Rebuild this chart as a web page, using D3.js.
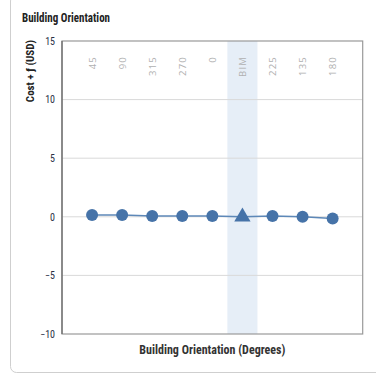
<!DOCTYPE html>
<html>
<head>
<meta charset="utf-8">
<script src="https://cdn.jsdelivr.net/npm/d3@7"></script>
<style>
html,body{margin:0;padding:0;background:#fff;}
svg{display:block;}
.narrow{font-family:"Liberation Sans Narrow","Roboto Condensed","DejaVu Sans Condensed","Arial Narrow",sans-serif;font-stretch:condensed;}
</style>
</head>
<body>
<svg id="chart" width="376" height="374"></svg>
<script>
const categories = ["45","90","315","270","0","BIM","225","135","180"];
const values = [0.15, 0.15, 0.06, 0.06, 0.06, 0.0, 0.06, 0.0, -0.14];
const highlight = "BIM";
const yTicks = [-10, -5, 0, 5, 10, 15];
const title = "Building Orientation";
const yTitle = "Cost + ƒ (USD)";
const xTitle = "Building Orientation (Degrees)";

const svg = d3.select("#chart");
const L = 62, R = 362.7, T = 41, B = 334;

// card
svg.append("rect").attr("x",10.5).attr("y",-5).attr("width",400).attr("height",377.5)
  .attr("rx",6).attr("fill","#fff").attr("stroke","#cfcfcf").attr("stroke-width",1);

svg.append("text").attr("class","narrow").attr("x",22).attr("y",22)
  .attr("font-size",12.5).attr("font-weight","bold").attr("fill","#222")
  .attr("textLength", 88).attr("lengthAdjust", "spacingAndGlyphs").text(title);

const x = d3.scalePoint().domain(categories).range([L, R]).padding(1);
const y = d3.scaleLinear().domain([-10, 15]).range([B, T]);
const step = x.step();

// highlight band
svg.append("rect").attr("x", x(highlight) - step/2).attr("y", T)
  .attr("width", step).attr("height", B - T).attr("fill", "#e6eef7");

// gridlines
svg.append("g").selectAll("line").data(yTicks.filter(d => d > -10 && d < 15)).join("line")
  .attr("x1", L).attr("x2", R).attr("y1", d => y(d)).attr("y2", d => y(d))
  .attr("stroke", "#d9d9d9").attr("stroke-width", 1);

// frame
svg.append("rect").attr("x", L).attr("y", T).attr("width", R - L).attr("height", B - T)
  .attr("fill", "none").attr("stroke", "#999").attr("stroke-width", 1.2);
svg.append("line").attr("x1", L).attr("x2", L).attr("y1", T).attr("y2", B)
  .attr("stroke", "#666").attr("stroke-width", 1.2);

// y axis labels
const yAxis = d3.axisLeft(y).tickValues(yTicks).tickSize(0).tickPadding(7);
const gy = svg.append("g").attr("transform", `translate(${L},0)`).call(yAxis);
gy.select(".domain").remove();
gy.selectAll("text").attr("class","narrow").attr("font-size", 10).attr("fill", "#2a2f45");

// category labels at top
svg.append("g").selectAll("text").data(categories).join("text")
  .attr("transform", d => `translate(${x(d) + 3.5},56) rotate(-90)`)
  .attr("text-anchor", "end").attr("font-family", "'Open Sans', sans-serif")
  .attr("font-size", 9.5).attr("letter-spacing", 1.2).attr("fill", "#b0b0b0").text(d => d);

// line
const line = d3.line().x((d, i) => x(categories[i])).y(d => y(d));
svg.append("path").datum(values).attr("d", line).attr("fill", "none")
  .attr("stroke", "#5d88b8").attr("stroke-width", 1.5);

// markers
svg.append("g").selectAll("path").data(values).join("path")
  .attr("transform", (d, i) => `translate(${x(categories[i])},${y(d)})`)
  .attr("d", (d, i) => categories[i] === highlight
      ? d3.symbol().type(d3.symbolTriangle).size(115)()
      : d3.symbol().type(d3.symbolCircle).size(Math.PI * 36)())
  .attr("fill", "#4673a8");

// axis titles
svg.append("text").attr("class","narrow").attr("transform", `translate(34,40) rotate(-90)`)
  .attr("text-anchor", "end").attr("font-size", 11).attr("font-weight", "bold")
  .attr("fill", "#222").text(yTitle);
svg.append("text").attr("class","narrow").attr("x", (L + R) / 2).attr("y", 354)
  .attr("text-anchor", "middle").attr("font-size", 12).attr("font-weight", "bold")
  .attr("fill", "#333").text(xTitle);
</script>
</body>
</html>
